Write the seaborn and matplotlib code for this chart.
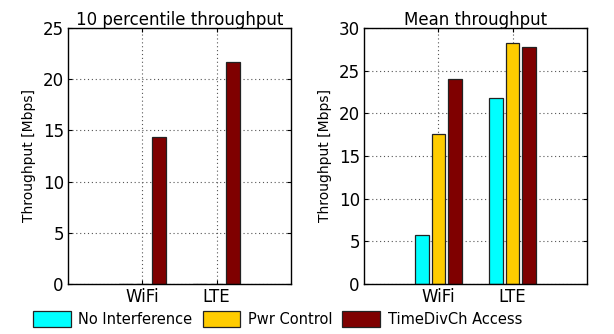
import matplotlib
matplotlib.use("Agg")
import matplotlib.pyplot as plt
from matplotlib.patches import Patch
import pandas as pd
import seaborn as sns

# Access technologies on the x axis
links = ["WiFi", "LTE"]
# Coexistence schemes (hue)
schemes = ["No Interference", "Pwr Control", "TimeDivCh Access"]
colors = ["#00FFFF", "#FFCC00", "#7F0000"]

# 10th percentile throughput [Mbps]
p10_no_interf = [0.0, 0.0]
p10_pwr_ctrl = [0.0, 0.0]
p10_tdc_access = [14.4, 21.7]

# Mean throughput [Mbps]
mean_no_interf = [5.8, 21.8]
mean_pwr_ctrl = [17.6, 28.2]
mean_tdc_access = [24.0, 27.8]


def long_frame(no_interf, pwr_ctrl, tdc_access):
    rows = []
    for scheme, vals in zip(schemes, [no_interf, pwr_ctrl, tdc_access]):
        for link, v in zip(links, vals):
            rows.append({"link": link, "scheme": scheme, "thr": v})
    return pd.DataFrame(rows)


df_p10 = long_frame(p10_no_interf, p10_pwr_ctrl, p10_tdc_access)
df_mean = long_frame(mean_no_interf, mean_pwr_ctrl, mean_tdc_access)

sns.set_style("white")
plt.rcParams["font.family"] = ["DejaVu Sans"]
plt.rcParams["text.color"] = "black"
plt.rcParams["axes.labelcolor"] = "black"
plt.rcParams["axes.titlecolor"] = "black"

fig = plt.figure(figsize=(6.14, 3.34), dpi=100)
ax1 = fig.add_axes([0.1107, 0.1497, 0.3632, 0.7665])
ax2 = fig.add_axes([0.5928, 0.1497, 0.3632, 0.7665])

panels = [
    (ax1, df_p10, "10 percentile throughput", 25, [0, 5, 10, 15, 20, 25]),
    (ax2, df_mean, "Mean throughput", 30, [0, 5, 10, 15, 20, 25, 30]),
]

for ax, df, title, ymax, yticks in panels:
    ax.set_axisbelow(True)
    sns.barplot(data=df, x="link", y="thr", hue="scheme", hue_order=schemes,
                order=links, palette=colors, saturation=1, width=0.667,
                gap=0.18, edgecolor="#222222", linewidth=0.9, errorbar=None,
                legend=False, ax=ax)
    ax.set_xlim(-1, 2)
    ax.set_ylim(0, ymax)
    ax.set_yticks(yticks)
    ax.set_xticks([0, 1])
    ax.set_xticklabels(links)
    ax.set_xlabel("")
    ax.set_ylabel("Throughput [Mbps]", fontsize=10, labelpad=5, color="black")
    ax.set_title(title, fontsize=12, pad=2, color="black")
    ax.grid(True, linestyle=(0, (1, 2.5)), color="#555555", linewidth=0.8)
    ax.tick_params(axis="both", labelsize=12, direction="in", length=3,
                   width=0.8, top=True, right=True, bottom=True, left=True,
                   pad=3, colors="black")
    for sp in ax.spines.values():
        sp.set_color("black")
        sp.set_linewidth(1.0)

handles = [Patch(facecolor=c, edgecolor="#222222", linewidth=0.9, label=s)
           for s, c in zip(schemes, colors)]
fig.legend(handles=handles, loc="center", bbox_to_anchor=(0.452, 0.045),
           ncol=3, frameon=False, fontsize=10.5, handlelength=2.6,
           handleheight=1.3, handletextpad=0.5, columnspacing=0.7,
           borderaxespad=0, borderpad=0, labelcolor="black")

fig.savefig("out.png", dpi=100)
